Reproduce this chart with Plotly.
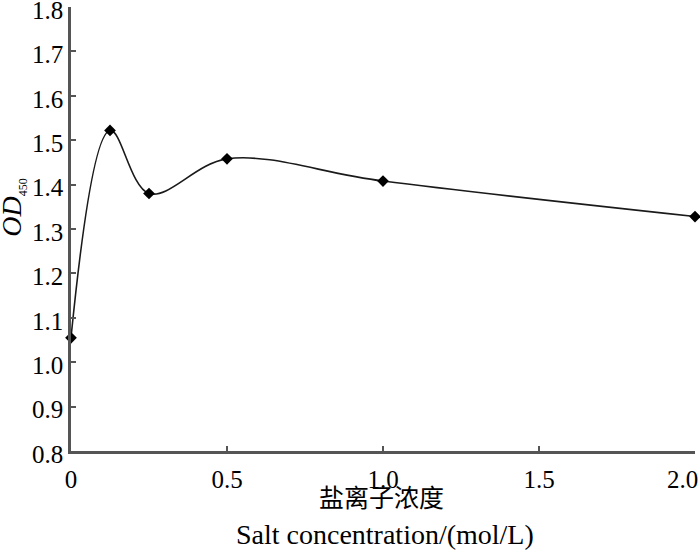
import plotly.graph_objects as go

# salt concentration (mol/L) vs OD450
salt_conc = [0, 0.125, 0.25, 0.5, 1.0, 2.0]
od450 = [1.055, 1.522, 1.380, 1.458, 1.408, 1.328]

x_ticks = [0, 0.5, 1.0, 1.5, 2.0]
# last label padded so it sits inside the right edge, as in the original
x_ticktext = ['0', '0.5', '1.0', '1.5', '2.0\u00a0\u00a0\u00a0\u00a0']
y_ticks = [0.8, 0.9, 1.0, 1.1, 1.2, 1.3, 1.4, 1.5, 1.6, 1.7, 1.8]
y_ticktext = ['%.1f' % v for v in y_ticks]

serif = 'Liberation Serif'

fig = go.Figure(go.Scatter(
    x=salt_conc,
    y=od450,
    mode='lines+markers',
    line=dict(shape='spline', smoothing=1.0, color='#1a1a1a', width=1.6),
    marker=dict(symbol='diamond', size=9, color='black'),
    cliponaxis=False,
    showlegend=False,
))

axis_common = dict(
    showline=True, linecolor='#555555', linewidth=2.5,
    ticks='inside', ticklen=5, tickwidth=1.5, tickcolor='#555555',
    showgrid=False, zeroline=False, automargin=False,
    ticklabeloverflow='allow',  # keep the end labels (1.8, 2.0) even if they touch the edge
    tickfont=dict(family=serif, size=25, color='black'),
)

fig.update_xaxes(range=[0, 2.0], tickvals=x_ticks, ticktext=x_ticktext,
                 ticklabelstandoff=4, **axis_common)
# nudge y labels a few px down so the top "1.8" stays on the page
fig.update_yaxes(range=[0.8, 1.8], tickvals=y_ticks, ticktext=y_ticktext,
                 ticklabelshift=3, **axis_common)

# axis titles
fig.add_annotation(text='盐离子浓度', xref='paper', yref='paper', x=0.498, y=-0.101,
                   showarrow=False, yanchor='middle',
                   font=dict(family='Noto Sans CJK SC', size=25, color='black'))
fig.add_annotation(text='Salt concentration/(mol/L)', xref='paper', yref='paper', x=0.503, y=-0.189,
                   showarrow=False, yanchor='middle',
                   font=dict(family=serif, size=28, color='black'))
fig.add_annotation(text="<i>OD</i><sub><span style='font-size:12px'>450</span></sub>",
                   xref='paper', yref='paper', x=-0.092, y=0.547,
                   showarrow=False, textangle=-90, xanchor='center', yanchor='middle',
                   font=dict(family=serif, size=28, color='black'))

fig.update_layout(
    width=700, height=560,
    margin=dict(l=71, r=5, t=7, b=109),
    plot_bgcolor='white', paper_bgcolor='white',
)

# drop the default 8px body margin so the figure fills the window
fig.write_html("out.html", config={'displayModeBar': False},
               post_script="document.body.style.margin='0';")
